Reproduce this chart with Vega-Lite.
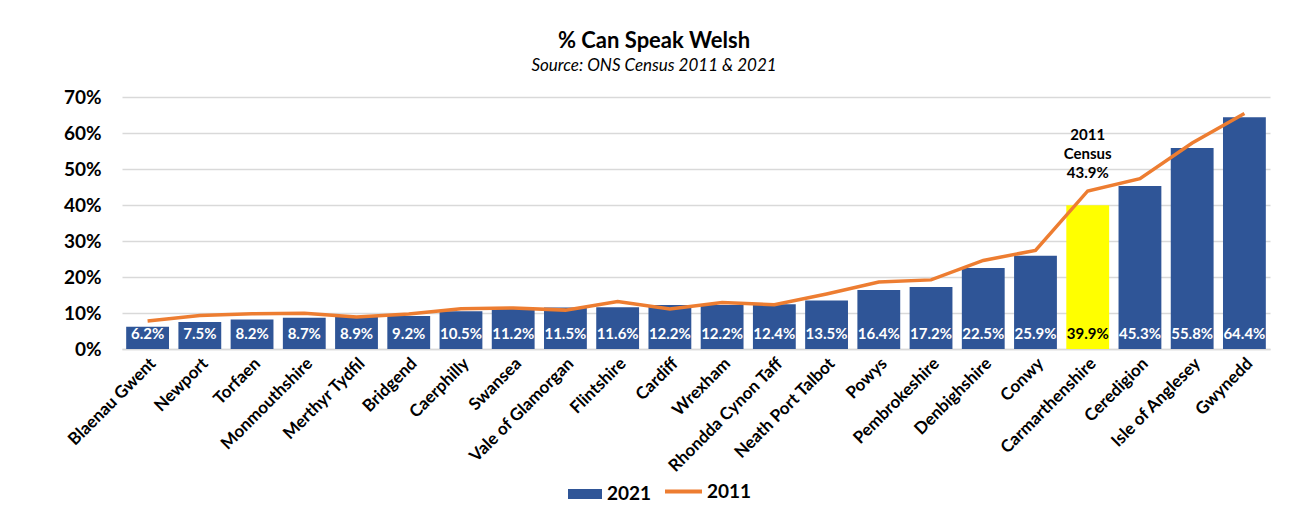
{
  "$schema": "https://vega.github.io/schema/vega-lite/v6.json",
  "width": 1148,
  "height": 252,
  "autosize": {"type": "none"},
  "padding": {"left": 122, "top": 97, "right": 26, "bottom": 171},
  "background": "white",
  "config": {
    "font": "Lato",
    "view": {"stroke": null},
    "axisY": {
      "title": null,
      "labelFontSize": 19,
      "labelFontWeight": "bold",
      "labelColor": "#000000",
      "labelPadding": 21,
      "ticks": false,
      "domain": false,
      "grid": true,
      "gridColor": "#d9d9d9",
      "gridWidth": 1.5,
      "labelOverlap": false,
      "tickCount": 10,
      "labelExpr": "datum.value + '%'"
    }
  },
  "title": {
    "text": "% Can Speak Welsh",
    "subtitle": "Source: ONS Census 2011 & 2021",
    "fontSize": 22,
    "fontWeight": "bold",
    "color": "#000000",
    "subtitleFontSize": 17,
    "subtitleFontStyle": "italic",
    "subtitleColor": "#000000",
    "subtitlePadding": 5,
    "anchor": "middle",
    "dx": -42,
    "offset": 13
  },
  "data": {
    "values": [
      {"area": "Blaenau Gwent", "v2021": 6.2, "v2011": 7.8},
      {"area": "Newport", "v2021": 7.5, "v2011": 9.3},
      {"area": "Torfaen", "v2021": 8.2, "v2011": 9.8},
      {"area": "Monmouthshire", "v2021": 8.7, "v2011": 9.9},
      {"area": "Merthyr Tydfil", "v2021": 8.9, "v2011": 8.9},
      {"area": "Bridgend", "v2021": 9.2, "v2011": 9.7},
      {"area": "Caerphilly", "v2021": 10.5, "v2011": 11.2},
      {"area": "Swansea", "v2021": 11.2, "v2011": 11.4},
      {"area": "Vale of Glamorgan", "v2021": 11.5, "v2011": 10.8},
      {"area": "Flintshire", "v2021": 11.6, "v2011": 13.2},
      {"area": "Cardiff", "v2021": 12.2, "v2011": 11.1},
      {"area": "Wrexham", "v2021": 12.2, "v2011": 12.9},
      {"area": "Rhondda Cynon Taff", "v2021": 12.4, "v2011": 12.3},
      {"area": "Neath Port Talbot", "v2021": 13.5, "v2011": 15.3},
      {"area": "Powys", "v2021": 16.4, "v2011": 18.6},
      {"area": "Pembrokeshire", "v2021": 17.2, "v2011": 19.2},
      {"area": "Denbighshire", "v2021": 22.5, "v2011": 24.6},
      {"area": "Conwy", "v2021": 25.9, "v2011": 27.4},
      {"area": "Carmarthenshire", "v2021": 39.9, "v2011": 43.9},
      {"area": "Ceredigion", "v2021": 45.3, "v2011": 47.3},
      {"area": "Isle of Anglesey", "v2021": 55.8, "v2011": 57.2},
      {"area": "Gwynedd", "v2021": 64.4, "v2011": 65.4}
    ]
  },
  "encoding": {
    "x": {
      "field": "area",
      "type": "nominal",
      "sort": null,
      "scale": {"paddingInner": 0.18, "paddingOuter": 0.08},
      "axis": {
        "title": null,
        "labelAngle": -45,
        "labelFontSize": 17,
        "labelFontWeight": "bold",
        "labelColor": "#000000",
        "labelPadding": 6,
        "ticks": false,
        "domain": true,
        "domainColor": "#d9d9d9",
        "domainWidth": 1.5
      }
    }
  },
  "layer": [
    {
      "mark": {"type": "bar"},
      "encoding": {
        "y": {
          "field": "v2021",
          "type": "quantitative",
          "scale": {"domain": [0, 70], "nice": false},
          "axis": {"values": [0, 10, 20, 30, 40, 50, 60, 70], "tickCount": 10}
        },
        "fill": {
          "datum": "2021",
          "scale": {"domain": ["2021"], "range": ["#2F5597"]},
          "condition": {"test": "datum.area === 'Carmarthenshire'", "value": "#FFFF00"},
          "legend": {
            "title": null,
            "orient": "none",
            "legendX": 446,
            "legendY": 380,
            "symbolType": "M-1,-0.3H1V0.3H-1Z",
            "symbolSize": 1156,
            "symbolStrokeWidth": 0,
            "labelFontSize": 19,
            "labelFontWeight": "bold",
            "labelColor": "#000000",
            "labelOffset": 5
          }
        }
      }
    },
    {
      "mark": {"type": "line", "stroke": "#ED7D31", "strokeWidth": 3.5},
      "encoding": {
        "y": {"field": "v2011", "type": "quantitative"},
        "stroke": {
          "datum": "2011",
          "scale": {"domain": ["2011"], "range": ["#ED7D31"]},
          "legend": {
            "title": null,
            "orient": "none",
            "legendX": 541,
            "legendY": 374,
            "symbolType": "stroke",
            "symbolSize": 1369,
            "symbolStrokeWidth": 4,
            "labelFontSize": 19,
            "labelFontWeight": "bold",
            "labelColor": "#000000",
            "labelOffset": 3
          }
        }
      }
    },
    {
      "transform": [{"calculate": "format(datum.v2021, '.1f') + '%'", "as": "label"}],
      "mark": {"type": "text", "baseline": "bottom", "dy": -7, "fontSize": 15, "fontWeight": "bold"},
      "encoding": {
        "y": {"datum": 0, "type": "quantitative"},
        "text": {"field": "label", "type": "nominal"},
        "color": {
          "condition": {"test": "datum.area === 'Carmarthenshire'", "value": "#000000"},
          "value": "#ffffff"
        }
      }
    },
    {
      "transform": [{"filter": "datum.area === 'Carmarthenshire'"}],
      "mark": {"type": "text", "baseline": "bottom", "dy": -48, "fontSize": 15, "fontWeight": "bold", "lineHeight": 19, "color": "#000000"},
      "encoding": {
        "y": {"field": "v2011", "type": "quantitative"},
        "text": {"value": ["2011", "Census", "43.9%"]}
      }
    }
  ],
  "resolve": {"scale": {"y": "shared"}}
}
